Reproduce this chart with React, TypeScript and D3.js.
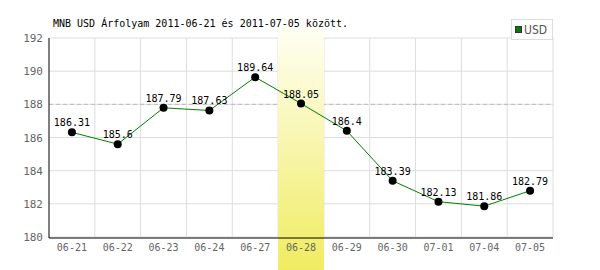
import React from "react";
import * as d3 from "d3";

const categories = ["06-21", "06-22", "06-23", "06-24", "06-27", "06-28", "06-29", "06-30", "07-01", "07-04", "07-05"];
const values = [186.31, 185.6, 187.79, 187.63, 189.64, 188.05, 186.4, 183.39, 182.13, 181.86, 182.79];
const yTicks = [180, 182, 184, 186, 188, 190, 192];
const refValue = 188;
const highlight = "06-28";
const title = "MNB USD Árfolyam 2011-06-21 és 2011-07-05 között.";
const seriesName = "USD";

const W = 600, H = 270;
const left = 49, right = 553, top = 38, bottom = 237;
const mono = "'DejaVu Sans Mono', monospace";

export default function App() {
  const x = d3.scaleBand<string>().domain(categories).range([left, right]).padding(0);
  const y = d3.scaleLinear().domain([180, 192]).range([bottom, top]);
  const line = d3.line<number>().x((_, i) => x(categories[i])! + x.bandwidth() / 2).y(d => y(d));
  const bw = x.bandwidth();
  const hx = x(highlight)!;
  return (
    <svg width={W} height={H} style={{ position: "absolute", left: 0, top: 0, background: "#fff" }}>
      <defs>
        <linearGradient id="hl" x1="0" y1="0" x2="0" y2="1">
          <stop offset="0" stopColor="#fffff4" />
          <stop offset="1" stopColor="#f0ec60" />
        </linearGradient>
      </defs>
      {yTicks.map(t => (
        <line key={"h" + t} x1={left} x2={right} y1={y(t)} y2={y(t)} stroke="#dddddd" />
      ))}
      {categories.map((c, i) => (
        <line key={"v" + c} x1={x(c)! + bw} x2={x(c)! + bw} y1={top} y2={bottom} stroke="#dddddd" />
      ))}
      <line x1={left} x2={right} y1={y(refValue)} y2={y(refValue)} stroke="#bbbbbb" strokeDasharray="4,3" />
      <rect x={hx} y={28} width={bw} height={H - 28} fill="url(#hl)" />
      <line x1={left} x2={left} y1={top} y2={bottom + 1} stroke="#000" />
      <line x1={left} x2={right} y1={bottom + 1} y2={bottom + 1} stroke="#000" />
      {yTicks.map(t => (
        <text key={"yt" + t} x={43} y={y(t) + 4} textAnchor="end" fontFamily={mono} fontSize={11} fill="#666">{t}</text>
      ))}
      {categories.map(c => (
        <text key={"xt" + c} x={x(c)! + bw / 2} y={251} textAnchor="middle" fontFamily={mono} fontSize={10} fill="#666">{c}</text>
      ))}
      <path d={line(values)!} fill="none" stroke="#008000" strokeWidth={1} />
      {values.map((v, i) => (
        <circle key={"p" + i} cx={x(categories[i])! + bw / 2} cy={y(v)} r={4} fill="#000" />
      ))}
      {values.map((v, i) => (
        <text key={"l" + i} x={x(categories[i])! + bw / 2} y={y(v) - 6} textAnchor="middle" fontFamily={mono} fontSize={10} fill="#000">{String(v)}</text>
      ))}
      <text x={53} y={27} fontFamily={mono} fontSize={10} fill="#000">{title}</text>
      <rect x={511.5} y={19.5} width={41} height={20} fill="#fff" stroke="#dddddd" />
      <rect x={515.5} y={26.5} width={6} height={6} fill="#008000" stroke="#333" />
      <text x={524} y={34} fontFamily="'Liberation Sans Narrow', 'DejaVu Sans Condensed', sans-serif" fontSize={12} fill="#555">{seriesName}</text>
    </svg>
  );
}
